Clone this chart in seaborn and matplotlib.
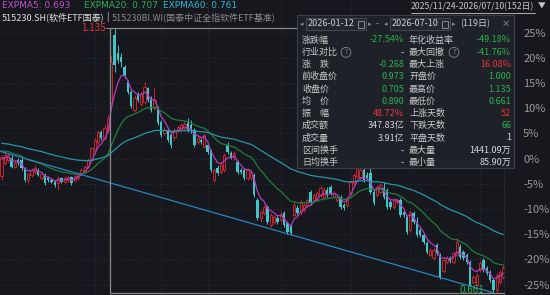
import numpy as np
import pandas as pd
import matplotlib
matplotlib.use("Agg")
import matplotlib.pyplot as plt
from matplotlib.patches import Rectangle
import seaborn as sns

# ---------------- data ----------------
base_price = 0.901          # 0% line of the right axis
start_date = "2025-11-24"
end_date = "2026-07-10"
holidays = ["2026-01-01", "2026-01-02", "2026-02-16", "2026-02-17", "2026-02-18",
            "2026-02-19", "2026-02-20", "2026-02-23", "2026-04-06", "2026-05-01",
            "2026-05-04", "2026-05-05", "2026-06-19"]
sel_start = "2026-01-12"

opens = [0.870, 0.893, 0.898, 0.902, 0.886, 0.898, 0.898, 0.884, 0.863, 0.872,
         0.877, 0.880, 0.866, 0.872, 0.866, 0.863, 0.859, 0.857, 0.866, 0.859,
         0.863, 0.868, 0.863, 0.866, 0.875, 0.877, 0.886, 0.898, 0.916, 0.931,
         0.948, 0.938, 0.952, 1.000, 1.122, 1.090, 1.083, 1.065, 1.038, 1.020,
         0.988, 1.015, 0.998, 1.002, 1.027, 1.009, 0.991, 0.991, 0.966, 0.947,
         0.952, 0.943, 0.939, 0.952, 0.952, 0.956, 0.965, 0.961, 0.952, 0.931,
         0.934, 0.922, 0.925, 0.916, 0.863, 0.884, 0.877, 0.880, 0.925, 0.911,
         0.902, 0.895, 0.880, 0.880, 0.866, 0.866, 0.872, 0.827, 0.795, 0.804,
         0.814, 0.782, 0.787, 0.795, 0.791, 0.804, 0.786, 0.780, 0.800, 0.813,
         0.805, 0.809, 0.818, 0.841, 0.827, 0.827, 0.836, 0.830, 0.845, 0.850,
         0.832, 0.827, 0.832, 0.818, 0.818, 0.839, 0.857, 0.868, 0.866, 0.880,
         0.872, 0.875, 0.841, 0.836, 0.841, 0.848, 0.845, 0.823, 0.814, 0.823,
         0.827, 0.805, 0.796, 0.773, 0.804, 0.786, 0.773, 0.764, 0.750, 0.728,
         0.723, 0.746, 0.728, 0.700, 0.716, 0.723, 0.716, 0.728, 0.743, 0.734,
         0.728, 0.716, 0.680, 0.675, 0.702, 0.720, 0.705, 0.698, 0.684, 0.666,
         0.680, 0.689]
highs = [0.907, 0.913, 0.911, 0.907, 0.898, 0.902, 0.902, 0.886, 0.875, 0.884,
         0.889, 0.884, 0.877, 0.875, 0.870, 0.866, 0.863, 0.870, 0.868, 0.870,
         0.872, 0.870, 0.873, 0.877, 0.884, 0.889, 0.902, 0.922, 0.938, 0.952,
         0.952, 0.961, 0.979, 1.086, 1.135, 1.104, 1.090, 1.068, 1.041, 1.023,
         1.015, 1.020, 1.020, 1.038, 1.029, 1.013, 1.027, 0.995, 0.970, 0.957,
         0.957, 0.947, 0.956, 0.961, 0.965, 0.968, 0.973, 0.970, 0.955, 0.941,
         0.937, 0.947, 0.929, 0.918, 0.884, 0.889, 0.893, 0.911, 0.931, 0.914,
         0.914, 0.898, 0.884, 0.884, 0.884, 0.880, 0.875, 0.830, 0.809, 0.818,
         0.818, 0.804, 0.800, 0.798, 0.807, 0.807, 0.789, 0.784, 0.823, 0.818,
         0.827, 0.821, 0.830, 0.845, 0.839, 0.843, 0.852, 0.850, 0.850, 0.854,
         0.843, 0.836, 0.836, 0.821, 0.834, 0.863, 0.875, 0.889, 0.886, 0.884,
         0.877, 0.884, 0.845, 0.854, 0.857, 0.859, 0.848, 0.827, 0.830, 0.830,
         0.830, 0.809, 0.800, 0.809, 0.807, 0.796, 0.777, 0.768, 0.753, 0.741,
         0.741, 0.750, 0.732, 0.725, 0.727, 0.727, 0.736, 0.759, 0.748, 0.737,
         0.732, 0.720, 0.693, 0.697, 0.718, 0.723, 0.709, 0.702, 0.687, 0.696,
         0.702, 0.711]
lows = [0.863, 0.889, 0.895, 0.884, 0.884, 0.889, 0.880, 0.859, 0.857, 0.868,
        0.873, 0.870, 0.863, 0.854, 0.859, 0.857, 0.850, 0.845, 0.857, 0.857,
        0.859, 0.854, 0.859, 0.863, 0.872, 0.875, 0.884, 0.895, 0.913, 0.925,
        0.934, 0.934, 0.948, 0.998, 1.056, 1.072, 1.065, 1.045, 1.016, 0.991,
        0.984, 1.002, 0.995, 0.998, 1.002, 0.984, 0.988, 0.961, 0.939, 0.943,
        0.931, 0.920, 0.934, 0.948, 0.948, 0.952, 0.948, 0.947, 0.922, 0.927,
        0.927, 0.920, 0.909, 0.877, 0.859, 0.872, 0.873, 0.877, 0.909, 0.900,
        0.898, 0.873, 0.873, 0.863, 0.863, 0.863, 0.832, 0.791, 0.787, 0.800,
        0.784, 0.778, 0.784, 0.784, 0.787, 0.778, 0.766, 0.764, 0.796, 0.800,
        0.800, 0.805, 0.814, 0.818, 0.823, 0.825, 0.832, 0.827, 0.832, 0.836,
        0.830, 0.823, 0.811, 0.809, 0.814, 0.836, 0.854, 0.866, 0.863, 0.859,
        0.863, 0.838, 0.818, 0.832, 0.838, 0.829, 0.811, 0.811, 0.811, 0.820,
        0.796, 0.796, 0.766, 0.770, 0.784, 0.761, 0.761, 0.748, 0.730, 0.725,
        0.720, 0.728, 0.686, 0.696, 0.712, 0.714, 0.712, 0.725, 0.721, 0.720,
        0.712, 0.671, 0.677, 0.671, 0.698, 0.698, 0.693, 0.680, 0.661, 0.663,
        0.677, 0.686]
closes = [0.904, 0.907, 0.907, 0.886, 0.893, 0.893, 0.884, 0.863, 0.873, 0.880,
          0.884, 0.872, 0.873, 0.857, 0.863, 0.859, 0.854, 0.866, 0.859, 0.866,
          0.868, 0.857, 0.870, 0.875, 0.880, 0.886, 0.898, 0.920, 0.934, 0.948,
          0.938, 0.956, 0.973, 1.074, 1.068, 1.077, 1.074, 1.050, 1.020, 0.995,
          1.009, 1.006, 1.016, 1.029, 1.006, 0.988, 1.006, 0.965, 0.943, 0.952,
          0.934, 0.925, 0.952, 0.957, 0.961, 0.963, 0.952, 0.950, 0.925, 0.938,
          0.931, 0.943, 0.913, 0.880, 0.880, 0.875, 0.889, 0.907, 0.913, 0.904,
          0.911, 0.877, 0.877, 0.866, 0.880, 0.877, 0.836, 0.795, 0.805, 0.814,
          0.787, 0.800, 0.796, 0.787, 0.802, 0.782, 0.770, 0.768, 0.818, 0.804,
          0.823, 0.818, 0.827, 0.821, 0.836, 0.839, 0.848, 0.845, 0.836, 0.839,
          0.839, 0.832, 0.814, 0.813, 0.830, 0.859, 0.872, 0.884, 0.880, 0.863,
          0.866, 0.841, 0.821, 0.850, 0.854, 0.832, 0.814, 0.814, 0.827, 0.827,
          0.800, 0.800, 0.770, 0.805, 0.787, 0.764, 0.764, 0.752, 0.734, 0.737,
          0.737, 0.732, 0.689, 0.720, 0.723, 0.718, 0.732, 0.752, 0.725, 0.723,
          0.716, 0.675, 0.689, 0.693, 0.714, 0.702, 0.696, 0.684, 0.666, 0.693,
          0.698, 0.705]

ema_spans = [5, 20, 60]
ema_seeds = [0.898, 0.916, 0.929]      # EMA levels at the left edge of the window
ema_colors = ["#b13cbf", "#1f7d3c", "#2795a8"]
trend_idx = [0, 148]
trend_val = [0.913, 0.661]

y_ticks = [25, 20, 15, 10, 5, 0, -5, -10, -15, -20, -25]

header_items = ["EXPMA5: 0.693", "EXPMA20: 0.707", "EXPMA60: 0.761"]
header_colors = ["#c04fd0", "#2fae55", "#35b6cf"]
title_main = "515230.SH(软件ETF国泰)"
title_bench = "515230BI.WI(国泰中证全指软件ETF基准)"
range_text = "2025/11/24-2026/07/10(152日)"
sel_dates = ["2026-01-12", "2026-07-10"]
sel_days = "(119日)"

rows = [
    ("涨跌幅", "-27.54%", "g", "年化收益率", "-49.18%", "g"),
    ("行业对比", "-", "w", "最大回撤", "-41.76%", "g"),
    ("涨\u3000跌", "-0.268", "g", "最大上涨", "16.08%", "r"),
    ("前收盘价", "0.973", "g", "开盘价", "1.000", "g"),
    ("收盘价", "0.705", "g", "最高价", "1.135", "g"),
    ("均\u3000价", "0.890", "g", "最低价", "0.661", "g"),
    ("振\u3000幅", "48.72%", "r", "上涨天数", "52", "r"),
    ("成交额", "347.83亿", "w", "下跌天数", "66", "g"),
    ("成交量", "3.91亿", "w", "平盘天数", "1", "w"),
    ("区间换手", "-", "w", "最大量", "1441.09万", "w"),
    ("日均换手", "-", "w", "最小量", "85.90万", "w"),
]

# ---------------- prep ----------------
BG = "#16181d"
RED = "#c3272f"
CYAN = "#3fc6c8"
GRID = "#2b2f37"
val_colors = {"g": "#2db24e", "r": "#e8363f", "w": "#d6d6d6"}

dates = pd.bdate_range(start_date, end_date)
dates = dates[~dates.isin(pd.to_datetime(holidays))]
df = pd.DataFrame({"date": dates[:len(closes)], "open": opens, "high": highs,
                   "low": lows, "close": closes})
df["i"] = np.arange(len(df))


def pct(p):
    return (np.asarray(p, dtype=float) / base_price - 1) * 100


for c in ["open", "high", "low", "close"]:
    df[c + "_p"] = pct(df[c])

sns.set_theme(style="dark")
plt.rcParams["font.family"] = ["Noto Sans CJK SC", "DejaVu Sans"]
plt.rcParams["axes.unicode_minus"] = False

fig = plt.figure(figsize=(5.5, 2.95), dpi=100, facecolor=BG)
ax = fig.add_axes([0, 0, 505 / 550, 1], facecolor=BG)
ax.set_xlim(-0.5, len(df) - 0.5)
ax.set_ylim(-27.08, 31.45)

# grid
for t in y_ticks:
    ax.axhline(t, color=GRID, lw=0.8, ls=(0, (1, 2)), zorder=0.5)
month_starts = [k for k in range(1, len(df))
                if df["date"][k].month != df["date"][k - 1].month and df["date"][k].year == 2026]
for k in month_starts:
    ax.axvline(k, color=GRID, lw=0.8, ls=(0, (1, 2)), zorder=0.5)

# candles
up = df["close"] >= df["open"]
dn = ~up
ax.vlines(df["i"][up], df["low_p"][up], df["high_p"][up], color=RED, lw=0.7, zorder=2)
ax.vlines(df["i"][dn], df["low_p"][dn], df["high_p"][dn], color=CYAN, lw=0.7, zorder=2)
hu = np.maximum(df["close_p"][up] - df["open_p"][up], 0.15)
ax.bar(df["i"][up], hu, bottom=df["open_p"][up], width=0.7, facecolor=BG,
       edgecolor=RED, linewidth=0.7, zorder=3)
hd = np.maximum(df["open_p"][dn] - df["close_p"][dn], 0.15)
ax.bar(df["i"][dn], hd, bottom=df["close_p"][dn], width=0.7, color=CYAN,
       linewidth=0, zorder=3)

# EXPMA lines
for span, seed, col in zip(ema_spans, ema_seeds, ema_colors):
    ema = pd.Series([seed] + closes).ewm(span=span, adjust=False).mean().iloc[1:]
    sns.lineplot(x=df["i"], y=pct(ema.values), color=col, lw=0.9, ax=ax, zorder=4)

# trend line through lows
slope = (trend_val[1] - trend_val[0]) / (trend_idx[1] - trend_idx[0])
tx = np.array([-0.5, trend_idx[1]])
sns.lineplot(x=tx, y=pct(trend_val[0] + slope * (tx - trend_idx[0])), color="#2a84c2",
             lw=0.9, ax=ax, zorder=4)

# selected interval box
s0 = int(np.where(df["date"] == pd.Timestamp(sel_start))[0][0])
sel = df.iloc[s0:]
hi_i = int(sel["high"].idxmax())
lo_i = int(sel["low"].idxmin())
hi_v = sel["high"].max()
lo_v = sel["low"].min()
ax.add_patch(Rectangle((s0 - 0.5, pct(lo_v)), len(df) - s0, pct(hi_v) - pct(lo_v),
                       fill=False, edgecolor="#8a8a8a", lw=0.9, zorder=5))
ax.plot([hi_i - 2.6, hi_i], [pct(hi_v)] * 2, color="#8a8a8a", lw=0.7, zorder=5)
ax.text(hi_i - 2.8, pct(hi_v), f"{hi_v:.3f}", color="#e8363f", fontsize=7,
        ha="right", va="center", zorder=6)
ax.plot([lo_i - 2.6, lo_i], [pct(lo_v)] * 2, color="#8a8a8a", lw=0.7, zorder=5)
ax.text(lo_i - 2.8, pct(lo_v) + 0.5, f"{lo_v:.3f}", color="#2db24e", fontsize=7,
        ha="right", va="center", zorder=6)

# right axis
ax.yaxis.tick_right()
ax.set_yticks(y_ticks)
ax.set_yticklabels([f"{t}%" for t in y_ticks])
ax.tick_params(axis="y", length=0, pad=13, labelsize=8, labelcolor="#9a9a9a")
ax.set_xticks([])
for s in ax.spines.values():
    s.set_visible(False)
ax.set_xlabel("")
ax.set_ylabel("")

# ---------------- overlay (pixel coords) ----------------
ov = fig.add_axes([0, 0, 1, 1])
ov.set_xlim(0, 550)
ov.set_ylim(295, 0)
ov.axis("off")
ov.patch.set_alpha(0)

for hx, txt, col in zip([2, 84, 163], header_items, header_colors):
    ov.text(hx, 6, txt, color=col, fontsize=6.5, va="center", ha="left", family="DejaVu Sans")
ov.text(2, 17.5, title_main, color="#e2e2e2", fontsize=6.5, va="center")
ov.text(106, 17.5, "|", color="#cfcfcf", fontsize=6.5, va="center")
ov.text(112, 17.5, title_bench, color="#8c8c8c", fontsize=6.5, va="center")
ov.text(411, 7, range_text, color="#c8c8c8", fontsize=6.3, va="center")
ov.plot([411, 535], [12.5, 12.5], color="#c8c8c8", lw=0.6)
ov.text(542, 6.5, "▼", color="#c8c8c8", fontsize=5.5, va="center", ha="center")

# popup panel
ov.add_patch(Rectangle((297, 15), 217, 153, facecolor="#1e2127", edgecolor="#3b3f47", lw=0.8))
hy = 24
for bx, dtxt in zip([306, 390], sel_dates):
    ov.text(bx - 4, hy, "◂", color="#8a8a8a", fontsize=5, va="center", ha="center")
    ov.add_patch(Rectangle((bx, hy - 6), 60, 12, facecolor="#24272e", edgecolor="#4a4e57", lw=0.6))
    ov.text(bx + 2, hy, dtxt, color="#d0d0d0", fontsize=6.5, va="center")
    ov.add_patch(Rectangle((bx + 52, hy - 3.5), 6, 7, fill=False, edgecolor="#9a9a9a", lw=0.6))
    ov.text(bx + 64, hy, "▸", color="#8a8a8a", fontsize=5, va="center", ha="center")
ov.text(377, hy, "-", color="#9a9a9a", fontsize=6.5, va="center", ha="center")
ov.text(460, hy, sel_days, color="#c8c8c8", fontsize=6.5, va="center")
ov.text(506, hy, "✕", color="#7a7a7a", fontsize=7, va="center", ha="center")

for r, (l1, v1, c1, l2, v2, c2) in enumerate(rows):
    yy = 40 + r * 12.25
    ov.text(302, yy, l1, color="#c9c9c9", fontsize=6.5, va="center")
    ov.text(404, yy, v1, color=val_colors[c1], fontsize=6.5, va="center", ha="right")
    ov.text(409, yy, l2, color="#c9c9c9", fontsize=6.5, va="center")
    ov.text(511, yy, v2, color=val_colors[c2], fontsize=6.5, va="center", ha="right")
for qx in [346, 454]:
    ov.text(qx, 52.3, "?", color="#9a9a9a", fontsize=4.5, va="center", ha="center",
            bbox=dict(boxstyle="circle,pad=0.15", fc="none", ec="#9a9a9a", lw=0.5))

fig.savefig("out.png", dpi=100, facecolor=BG)
